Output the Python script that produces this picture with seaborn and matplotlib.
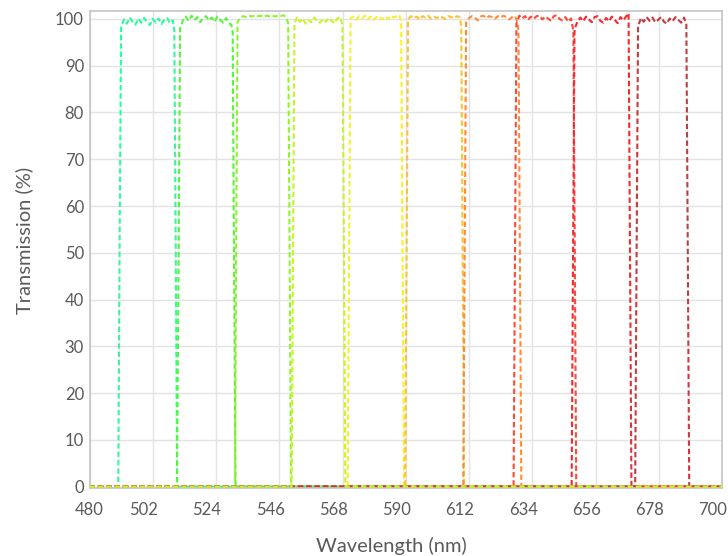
import numpy as np
import pandas as pd
import matplotlib
import matplotlib.pyplot as plt
import matplotlib.transforms as mtransforms
import seaborn as sns

matplotlib.use("Agg")

# ---- data (wavelength in nm, transmission in %) ----
filter_names = ["F1", "F2", "F3", "F4", "F5", "F6", "F7", "F8", "F9", "F10"]
filter_colors = ["#2DFB9E", "#5AF23E", "#8EF42C", "#C8F522", "#F8F02C",
                 "#FFC12E", "#FF8D35", "#FF4A36", "#F5292E", "#C23C40"]

f1_nm = [480, 490.0, 490.5, 491.0, 492, 493, 494, 495, 496, 497, 498, 499, 500, 501,
         502, 503, 504, 505, 506, 507, 508, 509, 509.5, 510.0, 510.5, 702]
f1_t = [0, 0, 55, 98.4, 99.9, 99.0, 100.3, 99.4, 98.8, 100.1, 99.2, 100.2, 99.3, 98.7,
        100.0, 99.2, 100.1, 98.9, 99.8, 100.2, 99.1, 99.7, 97.4, 50, 0, 0]

f2_nm = [480, 510.4, 510.9, 511.5, 512.5, 513.5, 514.5, 515.5, 516.5, 517.5, 518.5, 519.5,
         520.5, 521.5, 522.5, 523.5, 524.5, 525.5, 526.5, 527.5, 528.5, 529.3, 529.8, 530.3,
         530.8, 702]
f2_t = [0, 0, 40, 98.0, 99.7, 100.5, 99.6, 100.7, 99.8, 100.4, 99.3, 100.2, 100.6,
        99.7, 100.3, 99.4, 100.5, 99.8, 99.2, 100.2, 99.1, 98.8, 97.2, 45, 0, 0]

f3_nm = [480, 530.6, 531.0, 531.5, 532.5, 533.5, 534.5, 535.5, 536.5, 537.5, 538.5, 539.5,
         540.5, 541.5, 542.5, 543.5, 544.5, 545.5, 546.5, 547.5, 548.5, 549.1, 549.6, 550.1,
         702]
f3_t = [0, 0, 50, 99.4, 100.3, 100.6, 100.4, 100.7, 100.5, 100.8, 100.6, 100.7, 100.4,
        100.7, 100.6, 100.8, 100.5, 100.7, 100.6, 100.8, 100.2, 99.0, 50, 0, 0]

f4_nm = [480, 550.3, 550.8, 551.3, 552.2, 553.2, 554.2, 555.2, 556.2, 557.2, 558.2, 559.2,
         560.2, 561.2, 562.2, 563.2, 564.2, 565.2, 566.2, 567.2, 568.0, 568.5, 569.0, 702]
f4_t = [0, 0, 50, 99.0, 100.4, 99.4, 100.1, 99.0, 99.8, 99.3, 100.3, 99.5, 99.2,
        100.0, 99.4, 100.2, 99.6, 99.1, 100.1, 100.4, 98.6, 50, 0, 0]

f5_nm = [480, 569.8, 570.3, 570.8, 571.8, 572.8, 573.8, 574.8, 575.8, 576.8, 577.8, 578.8,
         579.8, 580.8, 581.8, 582.8, 583.8, 584.8, 585.8, 586.8, 587.8, 588.4, 588.9, 589.4,
         702]
f5_t = [0, 0, 50, 100.2, 100.5, 99.9, 100.6, 100.1, 100.7, 100.0, 100.5, 99.8,
        100.4, 100.6, 99.9, 100.5, 100.0, 100.7, 100.3, 100.6, 100.8, 99.4, 50, 0, 0]

f6_nm = [480, 589.8, 590.3, 590.8, 591.8, 592.8, 593.8, 594.8, 595.8, 596.8, 597.8, 598.8,
         599.8, 600.8, 601.8, 602.8, 603.8, 604.8, 605.8, 606.8, 607.8, 608.8, 609.3, 609.8,
         610.3, 702]
f6_t = [0, 0, 50, 99.8, 100.6, 100.2, 100.5, 99.9, 100.6, 100.3, 100.7, 100.0, 100.5,
        100.2, 100.6, 100.3, 100.0, 100.6, 100.4, 100.1, 100.6, 100.3, 98.6, 50, 0, 0]

f7_nm = [480, 610.0, 610.5, 611.0, 612.0, 613.0, 614.0, 615.0, 616.0, 617.0, 618.0, 619.0,
         620.0, 621.0, 622.0, 623.0, 624.0, 625.0, 626.0, 627.0, 628.0, 628.7, 629.2, 629.7,
         630.2, 702]
f7_t = [0, 0, 50, 99.2, 100.2, 100.6, 100.3, 99.7, 100.5, 100.7, 100.2, 100.6, 100.4,
        100.0, 100.6, 100.3, 100.7, 100.4, 99.9, 100.4, 100.6, 99.6, 97.6, 50, 0, 0]

f8_nm = [480, 627.5, 628.0, 628.5, 629.5, 630.5, 631.5, 632.5, 633.5, 634.5, 635.5, 636.5,
         637.5, 638.5, 639.5, 640.5, 641.5, 642.5, 643.5, 644.5, 645.5, 646.5, 647.5, 648.3,
         648.8, 649.3, 702]
f8_t = [0, 0, 50, 99.0, 100.7, 100.1, 100.6, 99.8, 100.5, 100.0, 100.6, 100.7, 99.9,
        100.5, 100.1, 99.6, 100.6, 100.8, 100.0, 99.7, 100.4, 99.4, 100.1, 97.4, 50, 0, 0]

f9_nm = [480, 647.7, 648.2, 648.7, 649.7, 650.7, 651.7, 652.7, 653.7, 654.7, 655.7, 656.7,
         657.7, 658.7, 659.7, 660.7, 661.7, 662.7, 663.7, 664.7, 665.7, 666.7, 667.5, 668.0,
         668.5, 702]
f9_t = [0, 0, 50, 97.8, 99.4, 100.3, 99.5, 100.5, 99.9, 99.3, 100.4, 100.6, 99.6, 99.2,
        100.2, 99.5, 100.5, 99.8, 99.1, 100.4, 99.7, 100.6, 101.2, 50, 0, 0]

f10_nm = [480, 669.8, 670.3, 670.8, 671.8, 672.8, 673.8, 674.8, 675.8, 676.8, 677.8, 678.8,
          679.8, 680.8, 681.8, 682.8, 683.8, 684.8, 685.8, 686.8, 687.6, 688.1, 688.6, 702]
f10_t = [0, 0, 50, 98.4, 100.2, 99.4, 100.4, 99.6, 100.3, 99.3, 99.8, 100.4, 99.4,
         99.0, 100.1, 99.5, 100.4, 99.8, 99.2, 100.3, 98.8, 50, 0, 0]

wavelengths = [f1_nm, f2_nm, f3_nm, f4_nm, f5_nm, f6_nm, f7_nm, f8_nm, f9_nm, f10_nm]
transmissions = [f1_t, f2_t, f3_t, f4_t, f5_t, f6_t, f7_t, f8_t, f9_t, f10_t]

x_ticks = [480, 502, 524, 546, 568, 590, 612, 634, 656, 678, 700]
y_ticks = [0, 10, 20, 30, 40, 50, 60, 70, 80, 90, 100]

# ---- style ----
sns.set_theme(style="white")
plt.rcParams["font.family"] = ["Lato", "DejaVu Sans"]

fig = plt.figure(figsize=(7.28, 5.56), dpi=100)
ax = fig.add_axes([89.5 / 728, 1 - 488 / 556, (722 - 89.5) / 728, (488 - 11) / 556])

for i, (name, nm, t, color) in enumerate(zip(filter_names, wavelengths, transmissions, filter_colors)):
    df = pd.DataFrame({"Wavelength": nm, "Transmission": t})
    # the yellow-green trace is the one that shows on top along the baseline
    z = 3 if name == "F4" else 2
    sns.lineplot(data=df, x="Wavelength", y="Transmission", sort=False,
                 color=color, linewidth=1.5, linestyle=(0, (2.6, 1.4)), zorder=z, ax=ax)

ax.set_xlim(480, 700)
ax.set_ylim(-0.3, 101.7)
ax.set_xticks(x_ticks)
ax.set_yticks(y_ticks)
ax.grid(True, color="#E3E3E3", linewidth=1.0)
ax.set_axisbelow(True)
for side in ["top", "right", "left", "bottom"]:
    ax.spines[side].set_visible(True)
    ax.spines[side].set_color("#C4C4C4")
    ax.spines[side].set_linewidth(1.2)

ax.tick_params(axis="both", length=0, labelsize=12, labelcolor="#5A5A5A")
ax.tick_params(axis="x", pad=10)
ax.tick_params(axis="y", pad=4)

# labels after the first sit a little left of their gridline, as in the reference
shift = mtransforms.ScaledTranslation(-9 / 100, 0, fig.dpi_scale_trans)
for lbl in ax.get_xticklabels()[1:]:
    lbl.set_transform(lbl.get_transform() + shift)

ax.set_xlabel("Wavelength (nm)", fontsize=14.5, color="#5A5A5A", labelpad=14)
ax.set_ylabel("Transmission (%)", fontsize=14.5, color="#5A5A5A", labelpad=16)
ax.xaxis.label.set_x(0.478)
ax.yaxis.label.set_y(0.52)

fig.savefig("out.png", dpi=100)
plt.close(fig)
